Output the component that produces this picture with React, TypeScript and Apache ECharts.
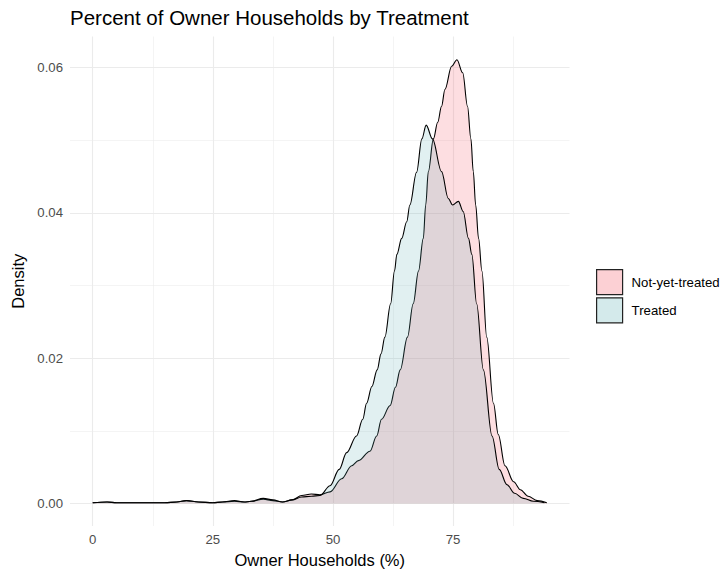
import React, { useEffect, useRef } from "react";
import * as echarts from "echarts";

const titleText = "Percent of Owner Households by Treatment";
const xAxisTitle = "Owner Households (%)";
const yAxisTitle = "Density";
const seriesNames = ["Not-yet-treated", "Treated"];

const xTicks = [0, 25, 50, 75];
const xMinorTicks = [12.5, 37.5, 62.5, 87.5];
const yTicks = [0, 0.02, 0.04, 0.06];
const yMinorTicks = [0.01, 0.03, 0.05];

const notYetX = [0, 3, 5, 10, 15, 17.5, 19.5, 22, 25, 27, 29.5, 31.5, 33, 35.5, 37.5, 39.5, 41.5, 43.5, 45.5, 47.3, 49.4, 51.8, 53.9, 55.3, 57.7, 59.1, 60.1, 61.9, 63.0, 64.0, 65.5, 66.7, 67.8, 68.8, 69.3, 69.85, 70.9, 71.8, 72.6, 73.3, 74.7, 75.8, 77.0, 78.0, 78.7, 79.2, 79.7, 80.3, 81.0, 82.0, 83.4, 84.4, 85.8, 87.6, 89.0, 90.6, 92.5, 94.5];
const notYetY = [0.0001, 0.0002, 0.0001, 0.0001, 0.0001, 0.0002, 0.0004, 0.0002, 0.0001, 0.0002, 0.0003, 0.0002, 0.0003, 0.0006, 0.0004, 0.0002, 0.0005, 0.0011, 0.0013, 0.0012, 0.0016, 0.0034, 0.0052, 0.0059, 0.0072, 0.0093, 0.0116, 0.0135, 0.016, 0.0184, 0.0229, 0.0275, 0.032, 0.0365, 0.0411, 0.0457, 0.0502, 0.0525, 0.0547, 0.057, 0.0602, 0.0611, 0.0593, 0.0547, 0.0502, 0.0457, 0.0411, 0.0365, 0.032, 0.0229, 0.0138, 0.0095, 0.0052, 0.003, 0.0019, 0.001, 0.0004, 0.0001];

const treatedX = [0, 3, 5, 10, 15, 17.5, 19.5, 22, 25, 27, 29.5, 31.5, 33, 35.5, 37.5, 39.5, 41.5, 43.5, 45.5, 47.3, 49.4, 51.3, 52.85, 54.9, 56.2, 57.0, 58.1, 59.2, 60.0, 60.8, 62.0, 62.8, 63.3, 64.3, 65.35, 66.0, 67.4, 68.5, 69.4, 70.7, 72.6, 74.0, 74.9, 76.1, 77.1, 78.2, 78.9, 79.9, 81.3, 83.1, 84.6, 86.2, 87.8, 89.6, 91.7, 94.0];
const treatedY = [0.0001, 0.0002, 0.0001, 0.0001, 0.0001, 0.0002, 0.0004, 0.0002, 0.0001, 0.0002, 0.0004, 0.0002, 0.0003, 0.0007, 0.0005, 0.0002, 0.0005, 0.0009, 0.001, 0.0011, 0.00245, 0.0047, 0.007, 0.0093, 0.0116, 0.0138, 0.0161, 0.0184, 0.0206, 0.0229, 0.0275, 0.032, 0.0343, 0.0365, 0.0388, 0.0411, 0.0456, 0.0502, 0.0521, 0.0502, 0.0457, 0.042, 0.0411, 0.0416, 0.0402, 0.0365, 0.0343, 0.0275, 0.0184, 0.0093, 0.0047, 0.0026, 0.0014, 0.0007, 0.0003, 0.0001];

const FONT = "'Liberation Sans', Arial, Helvetica, sans-serif";

export default function App() {
  const ref = useRef<HTMLDivElement>(null);
  useEffect(() => {
    if (!ref.current) return;
    const chart = echarts.init(ref.current, null, { renderer: "svg" });
    const pairs = (xs: number[], ys: number[]) => xs.map((x, i) => [x, ys[i]]);
    const gridStyle = (w: number) => ({ color: "#EBEBEB", width: w, type: "solid" as const });
    const markData = [
      ...xTicks.map((v) => ({ xAxis: v, lineStyle: gridStyle(1.1) })),
      ...xMinorTicks.map((v) => ({ xAxis: v, lineStyle: gridStyle(0.55) })),
      ...yTicks.map((v) => ({ yAxis: v, lineStyle: gridStyle(1.1) })),
      ...yMinorTicks.map((v) => ({ yAxis: v, lineStyle: gridStyle(0.55) })),
    ];
    chart.setOption({
      animation: false,
      backgroundColor: "#ffffff",
      textStyle: { fontFamily: FONT },
      title: {
        text: titleText,
        left: 70,
        top: 7,
        padding: 0,
        textStyle: { fontFamily: FONT, fontSize: 20.5, fontWeight: "normal", color: "#000" },
      },
      grid: { left: 70, right: 154.5, top: 36.5, bottom: 43, containLabel: false },
      legend: {
        orient: "vertical",
        left: 596,
        top: 269,
        padding: 0,
        itemWidth: 26,
        itemHeight: 25,
        itemGap: 2,
        textStyle: { fontFamily: FONT, fontSize: 13.2, color: "#000", padding: [0, 0, 0, 4] },
        data: [
          { name: seriesNames[0], icon: "rect", itemStyle: { color: "#FCD0D4", borderColor: "#222", borderWidth: 1.2 } },
          { name: seriesNames[1], icon: "rect", itemStyle: { color: "#D4EAEB", borderColor: "#222", borderWidth: 1.2 } },
        ],
      },
      xAxis: {
        type: "value",
        min: -4.725,
        max: 99.225,
        name: xAxisTitle,
        nameLocation: "middle",
        nameGap: 25,
        nameTextStyle: { fontFamily: FONT, fontSize: 16.5, color: "#000" },
        axisLine: { show: false },
        axisTick: { show: false },
        splitLine: { show: false },
        axisLabel: { customValues: xTicks, fontFamily: FONT, fontSize: 13.2, color: "#4D4D4D", margin: 7 },
      },
      yAxis: {
        type: "value",
        min: -0.0031,
        max: 0.0643,
        name: yAxisTitle,
        nameLocation: "middle",
        nameGap: 33,
        nameRotate: 90,
        nameTextStyle: { fontFamily: FONT, fontSize: 16.5, color: "#000" },
        axisLine: { show: false },
        axisTick: { show: false },
        splitLine: { show: false },
        axisLabel: {
          customValues: yTicks,
          fontFamily: FONT,
          fontSize: 13.2,
          color: "#4D4D4D",
          margin: 7,
          formatter: (v: number) => v.toFixed(2),
        },
      },
      series: [
        {
          name: "grid",
          type: "line",
          data: [],
          silent: true,
          z: 0,
          markLine: { silent: true, z: 1, symbol: ["none", "none"], label: { show: false }, data: markData },
        },
        {
          name: seriesNames[0],
          type: "line",
          z: 2,
          data: pairs(notYetX, notYetY),
          smooth: 0.35,
          smoothMonotone: "x",
          showSymbol: false,
          lineStyle: { color: "#000", width: 1.1 },
          itemStyle: { color: "#FCD0D4" },
          areaStyle: { color: "rgba(245,98,112,0.3)", origin: "auto" },
        },
        {
          name: seriesNames[1],
          type: "line",
          z: 3,
          data: pairs(treatedX, treatedY),
          smooth: 0.35,
          smoothMonotone: "x",
          showSymbol: false,
          lineStyle: { color: "#000", width: 1.1 },
          itemStyle: { color: "#D4EAEB" },
          areaStyle: { color: "rgba(83,171,175,0.25)", origin: "auto" },
        },
      ],
    });
    return () => chart.dispose();
  }, []);
  return (
    <div
      ref={ref}
      style={{ position: "absolute", left: 0, top: 0, width: 724, height: 573, background: "#fff" }}
    />
  );
}
